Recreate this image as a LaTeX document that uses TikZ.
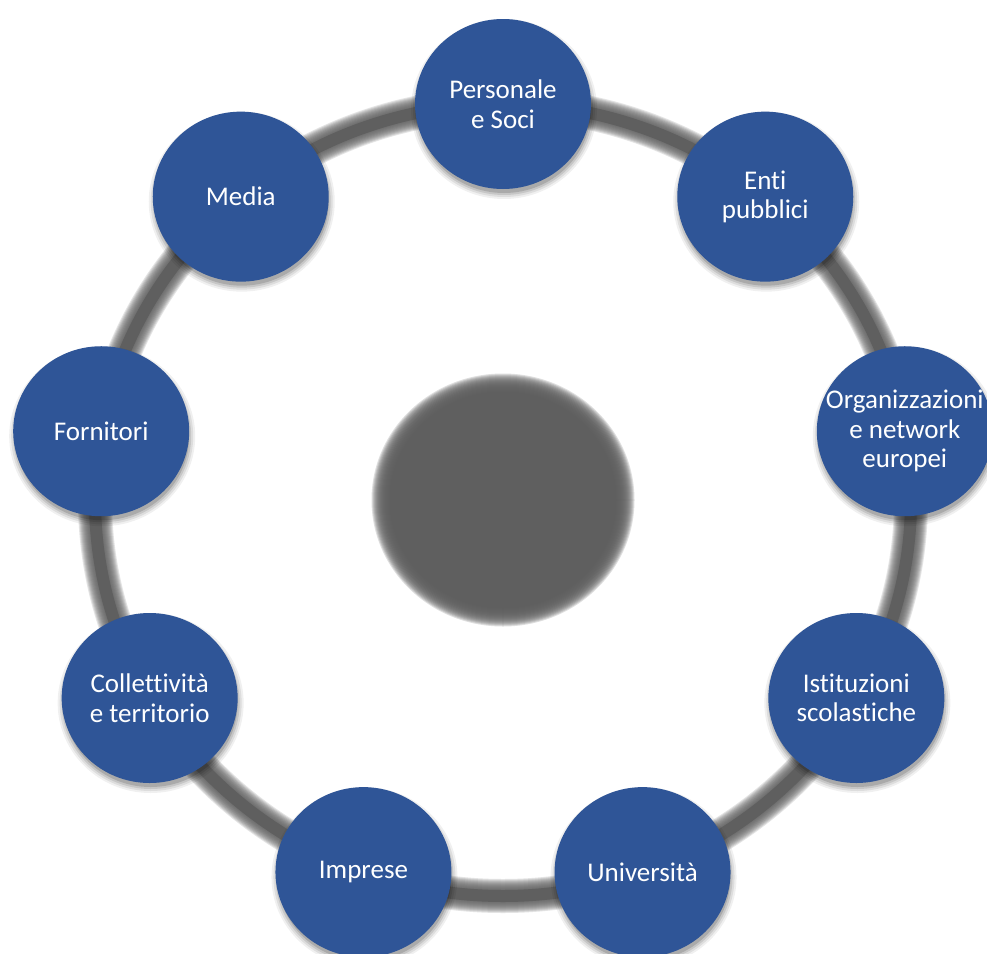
\documentclass[tikz,border=0pt]{standalone}
\usepackage{fontspec}
\setmainfont{Carlito}[RawFeature={-liga;-clig;-calt;-dlig;-rlig}]
\usetikzlibrary{shapes.geometric,calc}
\definecolor{nodeblue}{HTML}{2F5597}
\definecolor{ringgray}{HTML}{5F5F5F}
\begin{document}
\begin{tikzpicture}[x=1pt,y=-1pt,
  member/.style={ellipse, fill=nodeblue, minimum width=176pt, minimum height=170pt, inner sep=0pt},
  membertext/.style={text=white, align=center, inner sep=0pt, font=\fontsize{27}{29.5}\selectfont},
  nodeshadow/.style={fill=black, opacity=#1}
]
\useasboundingbox (0,0) rectangle (987,953);
\fill[white] (0,0) rectangle (987,953);
\coordinate (c) at (503,500);
% ring (soft edges)
\foreach \w in {12,14,...,34}
  \draw[ringgray, line width=\w pt, draw opacity=0.17] (c) ellipse [x radius=408pt, y radius=396pt];
\draw[ringgray, line width=12pt] (c) ellipse [x radius=408pt, y radius=396pt];
% center disc (soft edges)
\foreach \d in {-14,-13,...,5}
  \fill[ringgray, opacity=0.2] (c) ellipse [x radius={126.5pt+\d pt}, y radius={121.5pt+\d pt}];
\fill[ringgray] (c) ellipse [x radius=112.5pt, y radius=107.5pt];
% positions
\foreach \n/\a in {pers/90, enti/50, org/10, ist/-30, uni/-70, imp/-110, coll/-150, forn/170, media/130}
  \coordinate (p-\n) at ($(c)+(\a:408pt and 396pt)$);
% shadows
\foreach \n in {pers, enti, org, ist, uni, imp, coll, forn, media}
  \foreach \k/\o in {6/0.06, 4/0.08, 2/0.1, 0/0.14}
    \fill[nodeshadow=\o] ($(p-\n)+(1pt,-5pt)$) ellipse [x radius={87pt+\k pt}, y radius={84pt+\k pt}];
% nodes
\foreach \n in {pers, enti, org, ist, uni, imp, coll, forn, media}
  \node[member] (\n) at (p-\n) {};
\node[membertext] (pers-t)  at (pers)  {Personale\\e Soci};
\node[membertext] (enti-t)  at (enti)  {Enti\\pubblici};
\node[membertext] (org-t)   at (org)   {Organizzazioni\\e network\\europei};
\node[membertext] (ist-t)   at (ist)   {Istituzioni\\scolastiche};
\node[membertext] (uni-t)   at (uni)   {Università};
\node[membertext] (imp-t)   at (imp)   {Imprese};
\node[membertext] (coll-t)  at (coll)  {Collettività\\e territorio};
\node[membertext] (forn-t)  at (forn)  {Fornitori};
\node[membertext] (media-t) at (media) {Media};
\end{tikzpicture}
\end{document}
